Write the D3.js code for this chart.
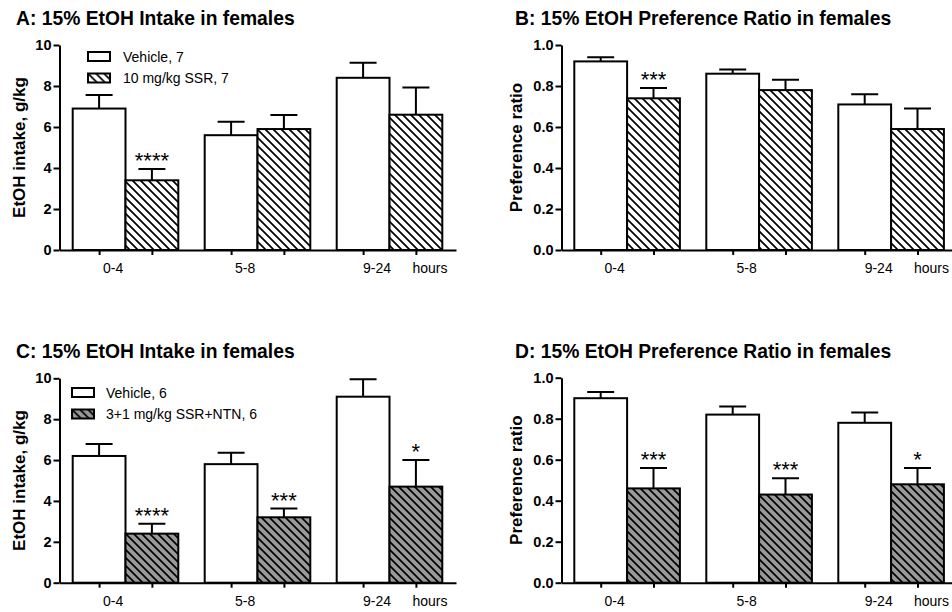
<!DOCTYPE html>
<html lang="en">
<head>
<meta charset="UTF-8">
<title>15% EtOH in females</title>
<script src="https://d3js.org/d3.v7.min.js"></script>
<style>
  body { margin: 0; background: #fff; }
  svg { display: block; font-family: "Liberation Sans", Arial, sans-serif; }
</style>
</head>
<body>
<svg width="952" height="612"></svg>
<script>
// time bins (x categories)
const groups = ["0-4", "5-8", "9-24"]
const yTicksIntake = [0, 2, 4, 6, 8, 10]
const yTicksRatio = [0, 0.2, 0.4, 0.6, 0.8, 1.0]

// A: intake, vehicle vs 10 mg/kg SSR
const vehA = [6.9, 5.6, 8.4]
const vehSemA = [0.66, 0.66, 0.74]
const drugA = [3.4, 5.9, 6.6]
const drugSemA = [0.55, 0.68, 1.33]
const starsA = ["****", "", ""]

// B: preference ratio, vehicle vs 10 mg/kg SSR
const vehB = [0.92, 0.86, 0.71]
const vehSemB = [0.02, 0.02, 0.05]
const drugB = [0.74, 0.78, 0.59]
const drugSemB = [0.05, 0.05, 0.10]
const starsB = ["***", "", ""]

// C: intake, vehicle vs 3+1 mg/kg SSR+NTN
const vehC = [6.2, 5.8, 9.1]
const vehSemC = [0.58, 0.56, 0.85]
const drugC = [2.4, 3.2, 4.7]
const drugSemC = [0.49, 0.43, 1.3]
const starsC = ["****", "***", "*"]

// D: preference ratio, vehicle vs 3+1 mg/kg SSR+NTN
const vehD = [0.90, 0.82, 0.78]
const vehSemD = [0.03, 0.04, 0.05]
const drugD = [0.46, 0.43, 0.48]
const drugSemD = [0.10, 0.08, 0.08]
const starsD = ["***", "***", "*"]

const svg = d3.select("svg")
const defs = svg.append("defs")

// hatch patterns: white and grey backgrounds
function hatch(id, bg) {
  const p = defs.append("pattern")
    .attr("id", id)
    .attr("patternUnits", "userSpaceOnUse")
    .attr("width", 8)
    .attr("height", 8)
  p.append("rect").attr("width", 8).attr("height", 8).attr("fill", bg)
  p.append("path")
    .attr("d", "M-2,-2 L10,10 M-2,6 L2,10 M6,-2 L10,2")
    .attr("stroke", "#000")
    .attr("stroke-width", 1.7)
}
hatch("hatchWhite", "#fff")
hatch("hatchGrey", "#999")

const panels = [
  { title: "A: 15% EtOH Intake in females", ylabel: "EtOH intake, g/kg",
    veh: vehA, vehSem: vehSemA, drug: drugA, drugSem: drugSemA, stars: starsA,
    yMax: 10, ticks: yTicksIntake, fmt: d3.format("d"), fill: "url(#hatchWhite)",
    left: 59.5, right: 456, top: 45, bottom: 250, barStart: 72.7,
    titleX: 16, titleY: 25, ylabX: 19,
    legend: { x: 88, y: 52, textX: 123, labels: ["Vehicle, 7", "10 mg/kg SSR, 7"] } },
  { title: "B: 15% EtOH Preference Ratio in females", ylabel: "Preference ratio",
    veh: vehB, vehSem: vehSemB, drug: drugB, drugSem: drugSemB, stars: starsB,
    yMax: 1, ticks: yTicksRatio, fmt: d3.format(".1f"), fill: "url(#hatchWhite)",
    left: 561.5, right: 952, top: 45, bottom: 250, barStart: 574.3,
    titleX: 515, titleY: 25, ylabX: 516 },
  { title: "C: 15% EtOH Intake in females", ylabel: "EtOH intake, g/kg",
    veh: vehC, vehSem: vehSemC, drug: drugC, drugSem: drugSemC, stars: starsC,
    yMax: 10, ticks: yTicksIntake, fmt: d3.format("d"), fill: "url(#hatchGrey)",
    left: 59.5, right: 456, top: 378.3, bottom: 582.7, barStart: 72.7,
    titleX: 16, titleY: 357.5, ylabX: 19,
    legend: { x: 72, y: 388, textX: 106, labels: ["Vehicle, 6", "3+1 mg/kg SSR+NTN, 6"] } },
  { title: "D: 15% EtOH Preference Ratio in females", ylabel: "Preference ratio",
    veh: vehD, vehSem: vehSemD, drug: drugD, drugSem: drugSemD, stars: starsD,
    yMax: 1, ticks: yTicksRatio, fmt: d3.format(".1f"), fill: "url(#hatchGrey)",
    left: 561.5, right: 952, top: 377.7, bottom: 582.7, barStart: 574.3,
    titleX: 515, titleY: 357.5, ylabX: 516 }
]

panels.forEach(drawPanel)

function drawPanel(p) {
  const g = svg.append("g")
  const y = d3.scaleLinear().domain([0, p.yMax]).range([p.bottom, p.top])
  const x = d3.scaleBand().domain(groups)
    .range([p.barStart, p.barStart + 369.6])
    .paddingInner(0.2)
  const xs = d3.scaleBand().domain(["veh", "drug"]).range([0, x.bandwidth()])

  const bars = []
  groups.forEach((grp, i) => {
    bars.push({ grp, key: "veh", v: p.veh[i], sem: p.vehSem[i], star: "" })
    bars.push({ grp, key: "drug", v: p.drug[i], sem: p.drugSem[i], star: p.stars[i] })
  })
  const cx = d => x(d.grp) + xs(d.key) + xs.bandwidth() / 2

  // error bars (drawn first so the bar outline covers the base)
  g.selectAll(".err").data(bars).enter().append("path")
    .attr("d", d => {
      const c = cx(d), t = y(d.v + d.sem)
      return "M" + c + "," + y(d.v) + "V" + t + "M" + (c - 13.5) + "," + t + "H" + (c + 13.5)
    })
    .attr("stroke", "#000")
    .attr("stroke-width", 2)
    .attr("fill", "none")

  g.selectAll(".bar").data(bars).enter().append("rect")
    .attr("x", d => x(d.grp) + xs(d.key))
    .attr("y", d => y(d.v))
    .attr("width", xs.bandwidth())
    .attr("height", d => p.bottom - y(d.v))
    .attr("fill", d => d.key === "veh" ? "#fff" : p.fill)
    .attr("stroke", "#000")
    .attr("stroke-width", 2)

  // significance stars
  g.selectAll(".star").data(bars.filter(d => d.star)).enter().append("text")
    .attr("x", cx)
    .attr("y", d => y(d.v + d.sem) - 1)
    .attr("text-anchor", "middle")
    .attr("font-size", 22)
    .text(d => d.star)

  // y axis
  const ya = g.append("g")
    .attr("transform", "translate(" + p.left + ",0)")
    .call(d3.axisLeft(y).tickValues(p.ticks).tickFormat(p.fmt).tickSize(6).tickSizeOuter(0).tickPadding(2))
  ya.attr("font-family", null)
  ya.selectAll("path, line").attr("stroke-width", 2)
  ya.selectAll("text")
    .attr("font-size", 14.5)
    .attr("font-weight", "bold")
    .attr("fill", "#000")

  // x axis: ticks under every bar
  const centers = bars.map(cx)
  const xa = g.append("g")
    .attr("transform", "translate(0," + p.bottom + ")")
    .call(d3.axisBottom(d3.scaleIdentity().domain([p.left, p.right]))
      .tickValues(centers).tickSize(5).tickSizeOuter(0).tickFormat(""))
  xa.selectAll("path, line").attr("stroke-width", 2)

  const xLabels = groups.map(grp => ({ t: grp, x: cx({ grp, key: "veh" }) }))
  xLabels.push({ t: "hours", x: cx({ grp: groups[2], key: "drug" }) })
  g.selectAll(".xl").data(xLabels).enter().append("text")
    .attr("x", d => d.x + 14)
    .attr("y", p.bottom + 23)
    .attr("text-anchor", "middle")
    .attr("font-size", 14)
    .text(d => d.t)

  // y label
  g.append("text")
    .attr("transform", "translate(" + p.ylabX + "," + (p.top + p.bottom) / 2 + ") rotate(-90)")
    .attr("dy", "0.35em")
    .attr("text-anchor", "middle")
    .attr("font-size", 17)
    .attr("font-weight", "bold")
    .text(p.ylabel)

  // title
  g.append("text")
    .attr("x", p.titleX)
    .attr("y", p.titleY)
    .attr("font-size", 19.3)
    .attr("font-weight", "bold")
    .text(p.title)

  // legend
  if (p.legend) {
    const lg = g.selectAll(".lg").data(p.legend.labels).enter().append("g")
      .attr("transform", (d, i) => "translate(0," + (p.legend.y + i * 21.5) + ")")
    lg.append("rect")
      .attr("x", p.legend.x)
      .attr("width", 22)
      .attr("height", 9)
      .attr("fill", (d, i) => i === 0 ? "#fff" : p.fill)
      .attr("stroke", "#000")
      .attr("stroke-width", 2)
    lg.append("text")
      .attr("x", p.legend.textX)
      .attr("y", 5)
      .attr("dy", "0.35em")
      .attr("font-size", 14)
      .text(d => d)
  }
}
</script>
</body>
</html>
